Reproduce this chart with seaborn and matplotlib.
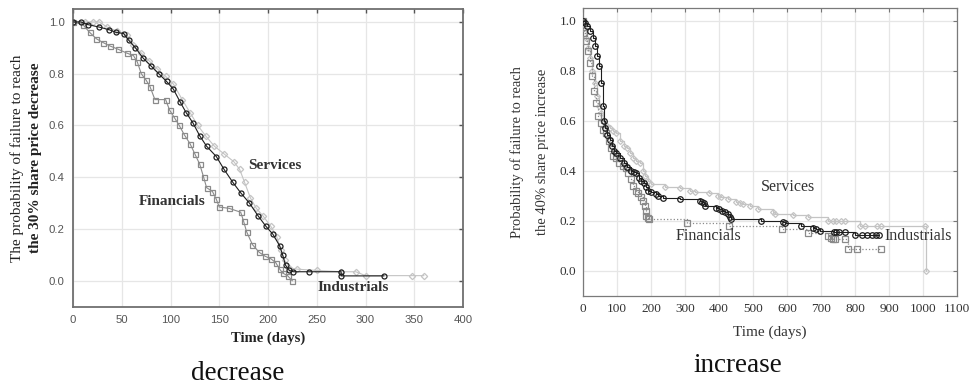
import numpy as np
import pandas as pd
import matplotlib
matplotlib.use("Agg")
import matplotlib.pyplot as plt
import seaborn as sns

# ---- data: decrease panel (days, survival) ----
dec_ind_t = [0, 8, 15, 27, 37, 44, 52, 57, 64, 72, 80, 88, 96, 103, 110, 116, 123, 130, 137, 147,
             155, 164, 172, 181, 190, 198, 205, 212, 215, 218, 222, 226, 242, 275, 275, 319]
dec_ind_p = [1.00, 1.00, 0.99, 0.98, 0.97, 0.96, 0.955, 0.93, 0.90, 0.86, 0.83, 0.80, 0.77, 0.74, 0.69, 0.65,
             0.61, 0.56, 0.52, 0.48, 0.43, 0.38, 0.34, 0.30, 0.25, 0.21, 0.18, 0.135, 0.10, 0.06, 0.04,
             0.035, 0.035, 0.035, 0.019, 0.019]

dec_ser_t = [0, 12, 20, 27, 35, 45, 55, 62, 70, 78, 86, 95, 103, 112, 120, 128, 136, 145, 155, 165,
             171, 176, 182, 188, 195, 203, 209, 213, 217, 222, 230, 250, 275, 290, 300, 348, 360]
dec_ser_p = [1.00, 1.00, 1.00, 1.00, 0.98, 0.965, 0.95, 0.91, 0.88, 0.85, 0.82, 0.79, 0.76, 0.70, 0.65,
             0.60, 0.56, 0.52, 0.49, 0.46, 0.43, 0.38, 0.32, 0.28, 0.25, 0.21, 0.17, 0.12, 0.08, 0.05,
             0.045, 0.04, 0.035, 0.035, 0.02, 0.02, 0.02]

dec_fin_t = [0, 10, 17, 24, 31, 38, 46, 55, 62, 66, 70, 75, 79, 84, 95, 99, 104, 109, 114, 120, 125,
             130, 134, 137, 143, 147, 150, 160, 172, 175, 178, 184, 191, 197, 203, 208, 212, 215, 220, 225]
dec_fin_p = [1.00, 0.99, 0.96, 0.935, 0.92, 0.907, 0.895, 0.88, 0.87, 0.845, 0.80, 0.775, 0.75, 0.70,
             0.70, 0.66, 0.63, 0.60, 0.565, 0.53, 0.49, 0.45, 0.40, 0.36, 0.345, 0.315, 0.285, 0.28,
             0.265, 0.23, 0.19, 0.14, 0.11, 0.095, 0.085, 0.07, 0.045, 0.03, 0.02, 0.0]

# ---- increase panel ----
inc_ind_t = [0, 5, 12, 20, 28, 35, 42, 48, 54, 58, 62, 66, 72, 78, 85, 92, 98, 110, 120, 128, 140,
             150, 157, 165, 172, 178, 185, 192, 200, 215, 222, 235, 285, 345, 350, 355, 360, 390,
             400, 410, 418, 425, 432, 436, 523, 588, 595, 642, 676, 686, 696, 738, 745, 752, 770,
             800, 820, 835, 850, 862, 872]
inc_ind_p = [1.00, 0.99, 0.98, 0.96, 0.93, 0.90, 0.86, 0.82, 0.75, 0.66, 0.60, 0.57, 0.545, 0.525,
             0.50, 0.48, 0.47, 0.45, 0.43, 0.415, 0.40, 0.395, 0.39, 0.37, 0.36, 0.35, 0.335, 0.32,
             0.315, 0.305, 0.30, 0.29, 0.285, 0.28, 0.275, 0.27, 0.26, 0.25, 0.245, 0.24, 0.235,
             0.225, 0.215, 0.205, 0.20, 0.195, 0.19, 0.18, 0.17, 0.165, 0.16, 0.155, 0.155, 0.155,
             0.155, 0.142, 0.142, 0.142, 0.142, 0.142, 0.142]

inc_fin_t = [0, 4, 8, 14, 20, 26, 32, 38, 45, 52, 60, 69, 76, 82, 88, 96, 105, 118, 125, 133, 140,
             147, 155, 162, 170, 176, 181, 184, 186, 190, 193, 306, 430, 584, 662, 722, 728, 735,
             742, 772, 780, 806, 875]
inc_fin_p = [1.00, 0.95, 0.92, 0.88, 0.83, 0.78, 0.72, 0.67, 0.62, 0.59, 0.565, 0.55, 0.52, 0.49,
             0.46, 0.45, 0.43, 0.42, 0.41, 0.39, 0.365, 0.34, 0.32, 0.31, 0.295, 0.28, 0.26, 0.24,
             0.22, 0.21, 0.205, 0.19, 0.18, 0.165, 0.152, 0.14, 0.13, 0.125, 0.125, 0.125, 0.085,
             0.085, 0.085]

inc_ser_t = [0, 3, 8, 14, 20, 27, 34, 40, 47, 53, 59, 68, 78, 88, 98, 110, 120, 128, 138, 147, 155,
             167, 176, 183, 190, 201, 240, 284, 314, 328, 372, 396, 406, 426, 451, 462, 471, 490,
             515, 559, 564, 617, 662, 721, 735, 745, 760, 770, 815, 830, 865, 875, 1006, 1008]
inc_ser_p = [1.00, 0.97, 0.93, 0.89, 0.85, 0.80, 0.75, 0.70, 0.66, 0.63, 0.60, 0.585, 0.57, 0.56,
             0.55, 0.52, 0.50, 0.49, 0.47, 0.45, 0.44, 0.43, 0.40, 0.38, 0.36, 0.345, 0.336, 0.33,
             0.32, 0.315, 0.31, 0.30, 0.293, 0.288, 0.275, 0.27, 0.268, 0.26, 0.245, 0.233, 0.228,
             0.222, 0.213, 0.20, 0.20, 0.20, 0.20, 0.20, 0.18, 0.18, 0.18, 0.18, 0.18, 0.0]

sns.set_style("white")
SERIF = ["Liberation Serif", "DejaVu Serif"]
SANS = ["Liberation Sans", "DejaVu Sans"]
plt.rcParams['font.family'] = SERIF

C_IND = "#1e1e1e"
C_FIN = "#8a8a8a"
C_SER = "#c4c4c4"

fig = plt.figure(figsize=(9.75, 3.85), dpi=100)
ax1 = fig.add_axes([73 / 975, 1 - 306.7 / 385, 390 / 975, 297.7 / 385])
ax2 = fig.add_axes([583 / 975, 1 - 295.7 / 385, 374 / 975, 287.4 / 385])


def km(ax, t, p, color, marker, steps, ls="-", ms=3.6, lw=0.8):
    sns.lineplot(x=t, y=p, ax=ax, color=color, linewidth=lw, linestyle=ls,
                 marker=marker, markersize=ms, markerfacecolor="none",
                 markeredgecolor=color, markeredgewidth=0.9,
                 drawstyle="steps-post" if steps else "default",
                 estimator=None, sort=False, zorder=3)


# left panel
km(ax1, dec_ser_t, dec_ser_p, C_SER, "D", False, ms=3.2)
km(ax1, dec_fin_t, dec_fin_p, C_FIN, "s", False)
km(ax1, dec_ind_t, dec_ind_p, C_IND, "o", False)
ax1.set_xlim(0, 400)
ax1.set_ylim(-0.1, 1.05)
ax1.set_xticks(np.arange(0, 401, 50))
ax1.set_yticks(np.arange(0, 1.01, 0.2))
ax1.set_yticklabels(["%.1f" % v for v in np.arange(0, 1.01, 0.2)])
for lab in ax1.get_xticklabels() + ax1.get_yticklabels():
    lab.set_family(SANS)
    lab.set_fontsize(8.2)
    lab.set_color("#555555")
ax1.tick_params(direction="in", length=3, width=1, color="#555555", top=True, right=True, pad=6)
for s in ax1.spines.values():
    s.set_color("#6f6f6f")
    s.set_linewidth(1.3)
ax1.grid(True, color="#e6e6e6", linewidth=0.9)
ax1.set_axisbelow(True)
ax1.set_xlabel("Time (days)", fontsize=10.5, fontweight="bold", color="#222222", labelpad=5)
ax1.set_ylabel("")
ax1.text(-0.1436, 0.5, "The probability of failure to reach", transform=ax1.transAxes,
         rotation=90, ha="center", va="center", fontsize=11, color="#222222")
ax1.text(-0.0949, 0.5, "the 30% share price decrease", transform=ax1.transAxes,
         rotation=90, ha="center", va="center", fontsize=11, fontweight="bold", color="#222222")
ax1.text(206.7, 0.447, "Services", ha="center", va="center", fontsize=11, fontweight="bold", color="#333333")
ax1.text(102, 0.308, "Financials", ha="center", va="center", fontsize=11, fontweight="bold", color="#333333")
ax1.text(287.5, -0.024, "Industrials", ha="center", va="center", fontsize=11, fontweight="bold", color="#333333")

# right panel
km(ax2, inc_ser_t, inc_ser_p, C_SER, "D", True, ms=3.0, lw=0.9)
km(ax2, inc_fin_t, inc_fin_p, C_FIN, "s", True, ls=":", ms=4.2, lw=0.9)
km(ax2, inc_ind_t, inc_ind_p, C_IND, "o", True, ms=4.0, lw=0.8)
ax2.set_xlim(0, 1100)
ax2.set_ylim(-0.1, 1.05)
ax2.set_xticks(np.arange(0, 1101, 100))
ax2.set_yticks(np.arange(0, 1.01, 0.2))
ax2.set_yticklabels(["%.1f" % v for v in np.arange(0, 1.01, 0.2)])
for lab in ax2.get_xticklabels() + ax2.get_yticklabels():
    lab.set_fontsize(9.5)
    lab.set_color("#333333")
ax2.tick_params(direction="in", length=3, width=0.8, color="#777777", top=True, right=True, pad=5)
for s in ax2.spines.values():
    s.set_color("#7a7a7a")
    s.set_linewidth(0.9)
ax2.grid(True, color="#e6e6e6", linewidth=0.9)
ax2.set_axisbelow(True)
ax2.set_xlabel("Time (days)", fontsize=11, color="#333333", labelpad=8)
ax2.set_ylabel("")
ax2.text(-0.1765, 0.5, "Probability of failure to reach", transform=ax2.transAxes,
         rotation=90, ha="center", va="center", fontsize=10.5, color="#333333")
ax2.text(-0.107, 0.5, "the 40% share price increase", transform=ax2.transAxes,
         rotation=90, ha="center", va="center", fontsize=10.5, color="#333333")
ax2.text(603, 0.333, "Services", ha="center", va="center", fontsize=11.5, color="#333333")
ax2.text(370, 0.14, "Financials", ha="center", va="center", fontsize=11.5, color="#333333")
ax2.text(987, 0.14, "Industrials", ha="center", va="center", fontsize=11.5, color="#333333")

fig.text(238 / 975, 1 - 373 / 385, "decrease", ha="center", va="center", fontsize=19.5, color="#111111")
fig.text(738 / 975, 1 - 366 / 385, "increase", ha="center", va="center", fontsize=19.5, color="#111111")

fig.savefig("out.png", dpi=100)
